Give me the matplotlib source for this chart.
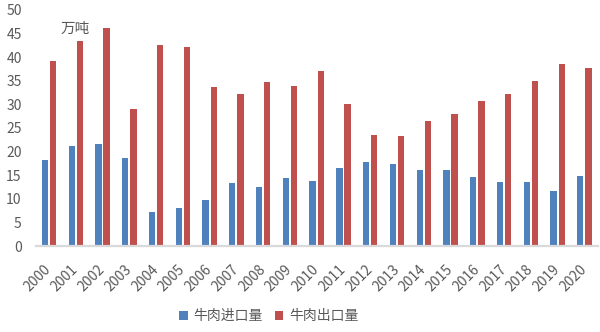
import matplotlib
matplotlib.use("Agg")
import matplotlib.pyplot as plt
import numpy as np

plt.rcParams['font.family'] = ['Noto Sans CJK SC', 'DejaVu Sans']

years = [str(y) for y in range(2000, 2021)]
imports = [18.2, 21.2, 21.6, 18.6, 7.2, 8.1, 9.7, 13.3, 12.5, 14.4, 13.8,
           16.5, 17.8, 17.4, 16.1, 16.1, 14.6, 13.6, 13.6, 11.7, 14.8]
exports = [39.2, 43.4, 46.2, 29.0, 42.6, 42.2, 33.7, 32.2, 34.7, 33.9, 37.1,
           30.1, 23.5, 23.3, 26.5, 28.0, 30.7, 32.2, 35.0, 38.6, 37.7]
series_names = ['牛肉进口量', '牛肉出口量']
unit_label = '万吨'

blue = '#4F81BD'
red = '#C0504D'
gray = '#595959'

fig = plt.figure(figsize=(6, 3.32), dpi=100)
ax = fig.add_axes([0.0593, 0.259, 0.937, 0.711])

x = np.arange(len(years))
w = 0.235
gap = 0.07
ax.bar(x - (w + gap) / 2, imports, width=w, color=blue, label=series_names[0])
ax.bar(x + (w + gap) / 2, exports, width=w, color=red, label=series_names[1])

ax.set_xlim(-0.5, len(years) - 0.5)
ax.set_ylim(0, 50)
ax.set_yticks(range(0, 51, 5))
ax.tick_params(axis='y', length=0, labelsize=10, labelcolor=gray, pad=10)
ax.set_xticks(x)
ax.set_xticklabels(years, rotation=45, ha='right', va='center',
                   rotation_mode='anchor')
ax.tick_params(axis='x', length=0, labelsize=10, labelcolor=gray, pad=15)

for s in ['left', 'right', 'top']:
    ax.spines[s].set_visible(False)
ax.spines['bottom'].set_color('#D9D9D9')
ax.spines['bottom'].set_linewidth(1.6)

ax.text(0.97, 46, unit_label, fontsize=10.5, color=gray, ha='center', va='center')

fig.legend(loc='center', bbox_to_anchor=(0.448, 0.048), ncol=2, frameon=False,
           fontsize=10, handlelength=0.6, handleheight=0.6, handletextpad=0.4,
           columnspacing=0.9, labelcolor=gray)

fig.savefig('out.png', dpi=100)
